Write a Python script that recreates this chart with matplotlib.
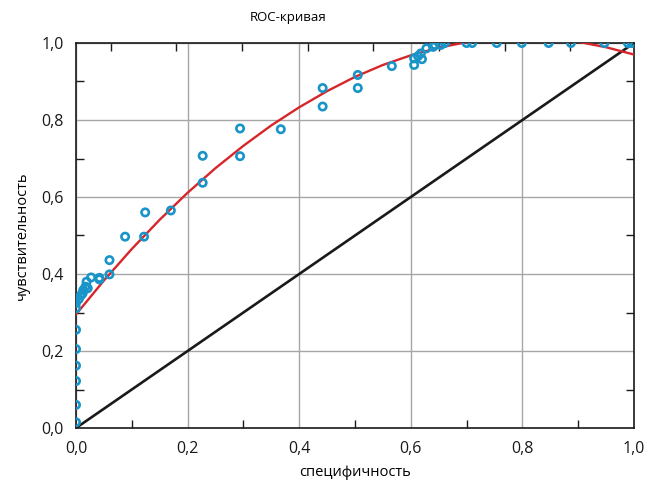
import matplotlib
matplotlib.use("Agg")
import matplotlib.pyplot as plt
import numpy as np

plt.rcParams['font.family'] = ['Open Sans', 'DejaVu Sans']

# ROC points (1 - specificity on x, sensitivity on y)
spec_x = [0.0, 0.0, 0.0, 0.0, 0.0, 0.0, 0.0, 0.0, 0.005,
          0.009, 0.012, 0.013, 0.017, 0.021, 0.019, 0.027, 0.042, 0.042, 0.06, 0.06,
          0.088, 0.122, 0.124, 0.17, 0.227, 0.227, 0.294, 0.294, 0.367, 0.442, 0.442,
          0.505, 0.505, 0.566, 0.606, 0.606, 0.613, 0.62, 0.618, 0.628, 0.64, 0.643,
          0.654, 0.661, 0.70, 0.71, 0.754, 0.799, 0.847, 0.887, 0.947, 0.989, 0.996]
sens_y = [0.015, 0.06, 0.122, 0.162, 0.205, 0.255, 0.311, 0.325, 0.335,
          0.345, 0.35, 0.358, 0.367, 0.363, 0.38, 0.391, 0.39, 0.386, 0.399, 0.436,
          0.497, 0.497, 0.56, 0.565, 0.637, 0.707, 0.706, 0.778, 0.776, 0.835, 0.883,
          0.883, 0.917, 0.94, 0.943, 0.96, 0.966, 0.958, 0.973, 0.986, 0.99, 0.995,
          0.995, 1.0, 1.0, 1.0, 1.0, 1.0, 1.0, 1.0, 1.0, 1.0, 1.0]

# fitted trend
fit_x = [0.0, 0.05, 0.1, 0.15, 0.2, 0.25, 0.3, 0.35, 0.4, 0.45, 0.5,
         0.55, 0.6, 0.65, 0.7, 0.75, 0.8, 0.85, 0.9, 0.95, 1.0]
fit_y = [0.295, 0.383, 0.465, 0.541, 0.611, 0.675, 0.733, 0.786, 0.833, 0.875, 0.912,
         0.943, 0.968, 0.988, 1.002, 1.011, 1.014, 1.011, 1.003, 0.989, 0.970]

diag = [0.0, 1.0]

fig = plt.figure(figsize=(6.56, 4.86), dpi=100)
ax = fig.add_axes([76 / 656, 58 / 486, 558 / 656, 385 / 486])

ax.plot(diag, diag, color='#1a1a1a', lw=1.9, zorder=3)
ax.plot(fit_x, fit_y, color='#d7262b', lw=1.7, zorder=4)
ax.scatter(spec_x, sens_y, s=28, marker='o', facecolors='none',
           edgecolors='#1994c8', linewidths=1.9, zorder=5, clip_on=True)

ax.set_xlim(0, 1)
ax.set_ylim(0, 1)
major = [0.0, 0.2, 0.4, 0.6, 0.8, 1.0]
labels = ['0,0', '0,2', '0,4', '0,6', '0,8', '1,0']
ax.set_xticks(major)
ax.set_xticklabels(labels)
ax.set_yticks(major)
ax.set_yticklabels(labels)
ax.set_xticks([0.1, 0.3, 0.5, 0.7, 0.9], minor=True)
ax.set_yticks([0.1, 0.3, 0.5, 0.7, 0.9], minor=True)
ax.tick_params(which='major', length=0, labelsize=11.5, pad=9, colors='#1a1a1a')
ax.tick_params(which='minor', direction='in', length=6, width=1, colors='#1a1a1a',
               left=True, right=True, bottom=True, top=False)
ax.grid(True, which='major', color='#a6a6a6', lw=1.0)
ax.set_axisbelow(True)

# odd top scale ticks
top = ax.secondary_xaxis('top')
top.set_xticks([0.0622 + k * 0.1177 for k in range(8)])
top.set_xticklabels([])
top.tick_params(direction='in', length=6, width=1, colors='#1a1a1a')
top.spines['top'].set_visible(False)

for s in ax.spines.values():
    s.set_color('#1a1a1a')
    s.set_linewidth(1.2)

ax.set_xlabel('специфичность', fontsize=10.5, labelpad=6)
ax.set_ylabel('чувствительность', fontsize=10.5, labelpad=8)
fig.text(288 / 656, 1 - 17 / 486, 'ROC-кривая', fontsize=9.5, ha='center', va='center')

fig.savefig('out.png', dpi=100)
